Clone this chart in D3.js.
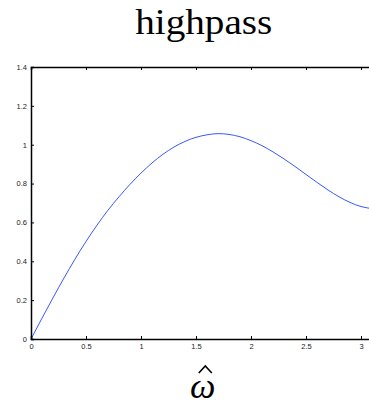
<!DOCTYPE html>
<html><head><meta charset="utf-8">
<script src="https://cdn.jsdelivr.net/npm/d3@7"></script>
<style>body{margin:0;background:#fff;}svg{display:block;}</style>
</head><body>
<script>
const title = "highpass";
const xLabel = "\u03C9";
const omega = [0,0.1,0.2,0.3,0.4,0.5,0.6,0.7,0.8,0.9,1.0,1.1,1.2,1.3,1.4,1.5,1.6,1.7,1.8,1.9,2.0,2.1,2.2,2.3,2.4,2.5,2.6,2.7,2.8,2.9,3.0,3.1,Math.PI];
const magnitude = [0,0.107,0.212,0.314,0.411,0.502,0.586,0.663,0.732,0.796,0.854,0.906,0.951,0.988,1.017,1.038,1.051,1.057,1.053,1.041,1.021,0.995,0.963,0.927,0.888,0.847,0.806,0.767,0.732,0.703,0.682,0.671,0.670];
const xTicks = [0,0.5,1,1.5,2,2.5,3];
const yTicks = [0,0.2,0.4,0.6,0.8,1,1.2,1.4];

const W = 369, H = 407;
const svg = d3.select("body").append("svg").attr("width", W).attr("height", H);
const x = d3.scaleLinear().domain([0, Math.PI]).range([31, 31 + 110*Math.PI]);
const y = d3.scaleLinear().domain([0, 1.4]).range([339, 67]);
const font = "Liberation Sans, Arial, sans-serif";
const serif = "Liberation Serif, Times New Roman, serif";

// curve
const line = d3.line().x((d,i)=>x(omega[i])).y(d=>y(d)).curve(d3.curveNatural);
svg.append("path").datum(magnitude).attr("d", line)
  .attr("fill","none").attr("stroke","#2244ff").attr("stroke-width",0.9);

// axes
const ax = svg.append("g").attr("transform",`translate(0,${y(0)})`)
  .call(d3.axisBottom(x).tickValues(xTicks).tickSize(-3).tickPadding(5).tickFormat(d3.format("")));
const ay = svg.append("g").attr("transform",`translate(${x(0)},0)`)
  .call(d3.axisLeft(y).tickValues(yTicks).tickSize(-3).tickPadding(4).tickFormat(d3.format("")));
const at = svg.append("g").attr("transform",`translate(0,${y(1.4)})`)
  .call(d3.axisTop(x).tickValues(xTicks).tickSize(-3).tickFormat(""));
[ax, ay, at].forEach(g => {
  g.select(".domain").attr("stroke","#000").attr("stroke-width",1.5);
  g.selectAll(".tick line").attr("stroke","#000").attr("stroke-width",1);
  g.selectAll(".tick text").attr("font-family",font).attr("font-size",7.5).attr("fill","#222");
});

const cx = (x.range()[0] + x.range()[1]) / 2;
svg.append("text").text(title)
  .attr("transform", `translate(${cx},34) scale(1.12,1)`)
  .attr("text-anchor","middle").attr("font-family",serif)
  .attr("font-size",35).attr("fill","#000");
svg.append("text").text(xLabel).attr("x", cx - 1).attr("y", 398)
  .attr("text-anchor","middle").attr("font-family",serif)
  .attr("font-style","italic").attr("font-size",36).attr("fill","#000");
// circumflex accent over omega
svg.append("path")
  .attr("d", `M${cx-5},${373} L${cx+1.5},${366} L${cx+8},${373}`)
  .attr("fill","none").attr("stroke","#000").attr("stroke-width",1.6)
  .attr("stroke-linejoin","miter");
</script>
</body></html>
